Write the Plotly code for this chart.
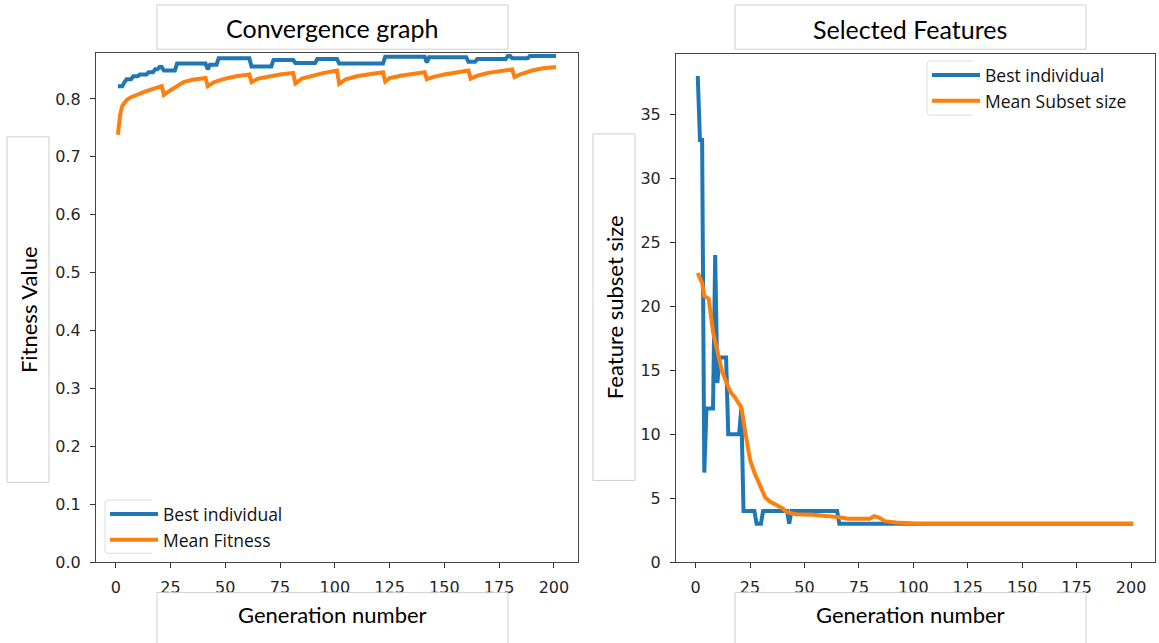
import plotly.graph_objects as go

# ---------------- data ----------------
# Left panel: Convergence graph
fit_best_gen = [1, 3, 4, 5, 7, 8, 10, 11, 14, 15, 17, 18, 19, 20, 21, 22, 27, 28, 41, 42,
                43, 46, 47, 61, 62, 71, 72, 81, 82, 91, 92, 101, 102, 122, 123, 141, 142,
                143, 160, 161, 164, 165, 178, 179, 180, 181, 188, 189, 201]
fit_best_val = [0.822, 0.822, 0.829, 0.834, 0.834, 0.839, 0.839, 0.842, 0.842, 0.846, 0.846,
                0.851, 0.851, 0.855, 0.855, 0.849, 0.849, 0.861, 0.861, 0.851, 0.859, 0.859,
                0.870, 0.870, 0.856, 0.856, 0.867, 0.867, 0.862, 0.862, 0.869, 0.869, 0.861,
                0.861, 0.873, 0.873, 0.863, 0.872, 0.872, 0.864, 0.864, 0.869, 0.869, 0.874,
                0.874, 0.870, 0.870, 0.874, 0.874]

fit_mean_gen = [1, 2, 3, 4, 5, 7, 10, 13, 16, 19, 21, 22, 23, 24, 25, 28, 31, 35, 39, 41,
                42, 45, 50, 55, 61, 62, 65, 70, 75, 81, 82, 85, 90, 95, 101, 102, 105, 110,
                115, 122, 123, 125, 130, 135, 141, 142, 145, 150, 155, 161, 162, 165, 170,
                175, 181, 182, 185, 190, 195, 201]
fit_mean_val = [0.738, 0.772, 0.788, 0.794, 0.798, 0.803, 0.808, 0.812, 0.816, 0.819, 0.822,
                0.807, 0.810, 0.813, 0.815, 0.822, 0.829, 0.833, 0.835, 0.836, 0.822, 0.829,
                0.835, 0.839, 0.842, 0.829, 0.835, 0.839, 0.842, 0.845, 0.827, 0.835, 0.840,
                0.845, 0.849, 0.826, 0.834, 0.839, 0.842, 0.846, 0.830, 0.836, 0.840, 0.843,
                0.846, 0.834, 0.838, 0.842, 0.845, 0.849, 0.835, 0.840, 0.845, 0.848, 0.851,
                0.838, 0.843, 0.849, 0.853, 0.855]

# Right panel: Selected Features
feat_best_gen = [1, 2, 3, 4, 5, 8, 9, 10, 11, 14, 15, 20, 21, 22, 27, 28, 30, 31, 42, 43,
                 44, 65, 66, 201]
feat_best_val = [38, 33, 33, 7, 12, 12, 24, 14, 16, 16, 10, 10, 12, 4, 4, 3, 3, 4, 4, 3,
                 4, 4, 3, 3]

feat_mean_gen = [1, 2, 3, 4, 6, 8, 10, 12, 14, 16, 18, 19, 21, 23, 25, 27, 29, 30, 31, 32,
                 34, 37, 40, 42, 46, 54, 62, 66, 70, 80, 82, 84, 87, 92, 100, 105, 201]
feat_mean_val = [22.6, 22.2, 21.8, 20.8, 20.6, 18.0, 16.3, 15.0, 14.1, 13.3, 12.9, 12.6,
                 12.1, 10.0, 8.0, 7.0, 6.2, 5.8, 5.35, 5.05, 4.75, 4.5, 4.2, 3.9, 3.75, 3.7,
                 3.6, 3.5, 3.4, 3.4, 3.6, 3.5, 3.2, 3.1, 3.02, 3.0, 3.0]

x_ticks = [0, 25, 50, 75, 100, 125, 150, 175, 200]
fit_ticks = [0.0, 0.1, 0.2, 0.3, 0.4, 0.5, 0.6, 0.7, 0.8]
feat_ticks = [0, 5, 10, 15, 20, 25, 30, 35]

BLUE = "#1f77b4"
ORANGE = "#ff7f0e"
W, H = 1159, 643


def px(x):
    return x / W


def py(y):
    return 1 - y / H


fig = go.Figure()
fig.add_trace(go.Scatter(x=fit_best_gen, y=fit_best_val, mode="lines", name="Best individual",
                         line=dict(color=BLUE, width=4), xaxis="x", yaxis="y", legend="legend"))
fig.add_trace(go.Scatter(x=fit_mean_gen, y=fit_mean_val, mode="lines", name="Mean Fitness",
                         line=dict(color=ORANGE, width=4), xaxis="x", yaxis="y", legend="legend"))
fig.add_trace(go.Scatter(x=feat_best_gen, y=feat_best_val, mode="lines", name="Best individual",
                         line=dict(color=BLUE, width=4), xaxis="x2", yaxis="y2", legend="legend2"))
fig.add_trace(go.Scatter(x=feat_mean_gen, y=feat_mean_val, mode="lines", name="Mean Subset size",
                         line=dict(color=ORANGE, width=4), xaxis="x2", yaxis="y2", legend="legend2"))

tick_font = dict(family="DejaVu Sans", size=16, color="#262626")
axis_common = dict(showgrid=False, zeroline=False, showline=True, mirror=True,
                   linecolor="#444444", linewidth=1, ticks="outside", ticklen=5,
                   tickcolor="#333333", tickfont=tick_font, ticklabelstandoff=6)

LEG_FONT = dict(family="Open Sans", size=17.5, color="#111111")

fig.update_layout(
    width=W, height=H,
    margin=dict(l=0, r=0, t=0, b=0),
    paper_bgcolor="white", plot_bgcolor="white",
    showlegend=True,
    xaxis=dict(domain=[px(96), px(578)], range=[-9, 211], tickvals=x_ticks,
               anchor="y", **axis_common),
    yaxis=dict(domain=[py(571), py(54)], range=[0, 0.879], tickvals=fit_ticks,
               tickformat=".1f", anchor="x", **axis_common),
    xaxis2=dict(domain=[px(676), px(1155)], range=[-9, 211], tickvals=x_ticks,
                anchor="y2", **axis_common),
    yaxis2=dict(domain=[py(571), py(54.5)], range=[0, 39.75], tickvals=feat_ticks,
                anchor="x2", **axis_common),
    legend=dict(x=px(105), y=py(504), xanchor="left", yanchor="top",
                bgcolor="rgba(0,0,0,0)", borderwidth=0, font=LEG_FONT, itemwidth=48),
    legend2=dict(x=px(927), y=py(58), xanchor="left", yanchor="top",
                 bgcolor="rgba(0,0,0,0)", borderwidth=0, font=LEG_FONT, itemwidth=48),
)

BOX_LINE = "#cfcfcf"


def box(x0, y0, x1, y1):
    fig.add_shape(type="rect", xref="paper", yref="paper",
                  x0=px(x0), x1=px(x1), y0=py(y1), y1=py(y0),
                  fillcolor="white", line=dict(color=BOX_LINE, width=1), layer="above")


def label(text, x, y, size, angle=0):
    fig.add_annotation(text=text, xref="paper", yref="paper", x=px(x), y=py(y),
                       xanchor="center", yanchor="middle", showarrow=False, textangle=angle,
                       font=dict(family="Lato", size=size, color="#000000"))


# title boxes
box(157, 5, 508, 50)
label("Convergence graph", 332, 28, 25)
box(735, 5, 1086, 50)
label("Selected Features", 910, 29, 25)
# y label boxes
box(7, 139, 49, 490)
label("Fitness Value", 28, 315, 22, angle=-90)
box(593, 136, 635, 488)
label("Feature subset size", 614, 312, 22, angle=-90)
# x label boxes
box(157, 602, 508, 660)
label("Generation number", 332, 624, 22)
box(735, 602, 1086, 660)
label("Generation number", 910, 624, 22)

# partial legend frames (the right part is hidden behind the pasted text)
FRAME = "#dddddd"
for (lx, ty, rx, by) in [(105, 508, 152, 562), (927, 62, 973, 117)]:
    path = (f"M {px(rx)},{py(ty)} L {px(lx + 3)},{py(ty)} Q {px(lx)},{py(ty)} {px(lx)},{py(ty + 3)} "
            f"L {px(lx)},{py(by - 3)} Q {px(lx)},{py(by)} {px(lx + 3)},{py(by)} L {px(rx)},{py(by)}")
    fig.add_shape(type="path", xref="paper", yref="paper", path=path,
                  line=dict(color=FRAME, width=1), layer="above")

fig.write_html("out.html", post_script="document.body.style.margin='0';",
               config={"displayModeBar": False})
